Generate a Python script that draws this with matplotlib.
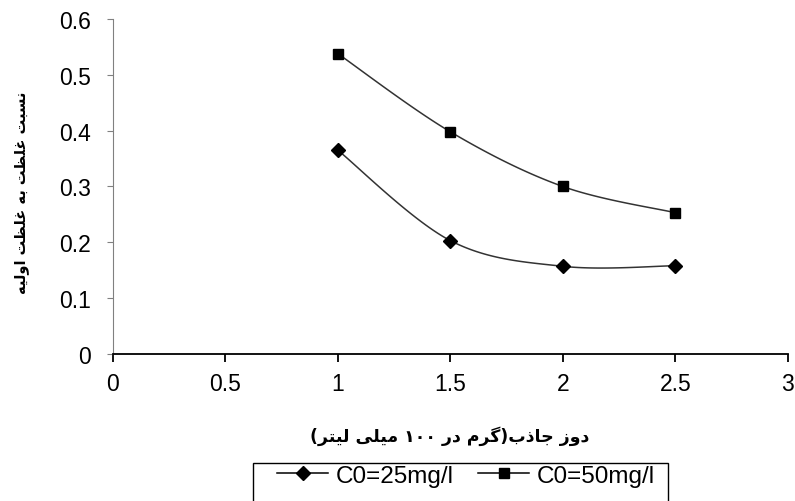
import re
import numpy as np
import matplotlib
matplotlib.use('Agg')
import matplotlib.pyplot as plt
from matplotlib.lines import Line2D
from matplotlib.patches import Rectangle

# 数据
dose = [1, 1.5, 2, 2.5]
c0_25 = [0.365, 0.203, 0.157, 0.158]
c0_50 = [0.538, 0.398, 0.300, 0.253]
series_labels = ['C0=25mg/l', 'C0=50mg/l']
xticks = [0, 0.5, 1, 1.5, 2, 2.5, 3]
yticks = [0, 0.1, 0.2, 0.3, 0.4, 0.5, 0.6]
xlabel = 'دوز جاذب(گرم در ۱۰۰ میلی لیتر)'
ylabel = 'نسبت غلظت به غلظت اولیه'

# 阿拉伯字母连写形式 (孤立, 词尾, 词首, 词中)
FORMS = {
    'ا': (0xFE8D, 0xFE8E), 'د': (0xFEA9, 0xFEAA), 'ذ': (0xFEAB, 0xFEAC),
    'ر': (0xFEAD, 0xFEAE), 'ز': (0xFEAF, 0xFEB0), 'و': (0xFEED, 0xFEEE),
    'ب': (0xFE8F, 0xFE90, 0xFE91, 0xFE92), 'ت': (0xFE95, 0xFE96, 0xFE97, 0xFE98),
    'ج': (0xFE9D, 0xFE9E, 0xFE9F, 0xFEA0), 'س': (0xFEB1, 0xFEB2, 0xFEB3, 0xFEB4),
    'ظ': (0xFEC5, 0xFEC6, 0xFEC7, 0xFEC8), 'غ': (0xFECD, 0xFECE, 0xFECF, 0xFED0),
    'ل': (0xFEDD, 0xFEDE, 0xFEDF, 0xFEE0), 'م': (0xFEE1, 0xFEE2, 0xFEE3, 0xFEE4),
    'ن': (0xFEE5, 0xFEE6, 0xFEE7, 0xFEE8), 'ه': (0xFEE9, 0xFEEA, 0xFEEB, 0xFEEC),
    'ی': (0xFBFC, 0xFBFD, 0xFBFE, 0xFBFF), 'گ': (0xFB92, 0xFB93, 0xFB94, 0xFB95),
}


def shape(text):
    """
    简单的波斯文连写 + 右到左显示
    """
    out = []
    for i, c in enumerate(text):
        if c not in FORMS:
            out.append(c)
            continue
        prev = text[i - 1] if i > 0 else ''
        nxt = text[i + 1] if i + 1 < len(text) else ''
        f = FORMS[c]
        join_prev = prev in FORMS and len(FORMS[prev]) == 4
        join_next = len(f) == 4 and nxt in FORMS
        if join_prev and join_next:
            g = f[3]
        elif join_prev:
            g = f[1]
        elif join_next:
            g = f[2]
        else:
            g = f[0]
        out.append(chr(g))
    vis = ''.join(out)[::-1]
    vis = vis.translate(str.maketrans('()', ')('))
    vis = re.sub(r'[۰-۹0-9]+', lambda m: m.group(0)[::-1], vis)
    return vis


def smooth(x, y, n=40):
    """
    类似 Excel 的平滑曲线
    """
    pts = np.column_stack([x, y]).astype(float)
    P = np.vstack([pts[0], pts, pts[-1]])
    t = np.linspace(0, 1, n)[:, None]
    segs = []
    for i in range(1, len(P) - 2):
        p0, p1, p2, p3 = P[i - 1], P[i], P[i + 1], P[i + 2]
        c1 = p1 + (p2 - p0) / 6
        c2 = p2 - (p3 - p1) / 6
        segs.append((1 - t) ** 3 * p1 + 3 * (1 - t) ** 2 * t * c1
                    + 3 * (1 - t) * t ** 2 * c2 + t ** 3 * p2)
    s = np.vstack(segs)
    return s[:, 0], s[:, 1]


plt.rcParams['font.family'] = ['Liberation Sans', 'DejaVu Sans']

fig = plt.figure(figsize=(7.95, 5.02), dpi=100)
ax = fig.add_axes([0.142, 0.293, 0.849, 0.667])

for vals, mk, ms in [(c0_25, 'D', 7.5), (c0_50, 's', 7.5)]:
    sx, sy = smooth(dose, vals)
    ax.plot(sx, sy, color='#333333', linewidth=1.1)
    ax.plot(dose, vals, linestyle='none', marker=mk, markersize=ms, color='black')

ax.set_xlim(0, 3)
ax.set_ylim(0, 0.6)
ax.set_xticks(xticks)
ax.set_xticklabels([f'{v:g}' for v in xticks])
ax.set_yticks(yticks)
ax.set_yticklabels([f'{v:g}' for v in yticks])

ax.spines['top'].set_visible(False)
ax.spines['right'].set_visible(False)
ax.spines['left'].set_color('#808080')
ax.spines['bottom'].set_color('black')
ax.spines['bottom'].set_linewidth(1.3)
ax.tick_params(axis='y', direction='out', length=4.5, color='#808080', pad=11, labelsize=16.5)
ax.tick_params(axis='x', direction='out', length=6, color='black', width=1.3, pad=7, labelsize=16.5)

fig.text(0.027, 0.616, shape(ylabel), rotation=90, ha='center', va='center',
         fontsize=10.5, fontweight='bold', family=['DejaVu Sans'])
fig.text(0.566, 0.131, shape(xlabel), ha='center', va='center',
         fontsize=12.5, fontweight='bold', family=['DejaVu Sans'])

# 图例: 无边框图例 + 单独画的外框 (底边超出画布)
handles = [
    Line2D([], [], color='black', marker='D', markersize=7, linewidth=1.1),
    Line2D([], [], color='black', marker='s', markersize=7, linewidth=1.1),
]
leg = fig.legend(handles, series_labels, loc='upper left', bbox_to_anchor=(0.349, 0.072),
                 ncol=2, fontsize=17.5, frameon=False,
                 handlelength=2.1, columnspacing=1.0, handletextpad=0.3,
                 borderpad=0.0, borderaxespad=0.0)
fig.patches.append(Rectangle((0.318, -0.05), 0.522, 0.126, transform=fig.transFigure,
                             fill=False, edgecolor='black', linewidth=1.0))

fig.savefig('out.png', dpi=100)
